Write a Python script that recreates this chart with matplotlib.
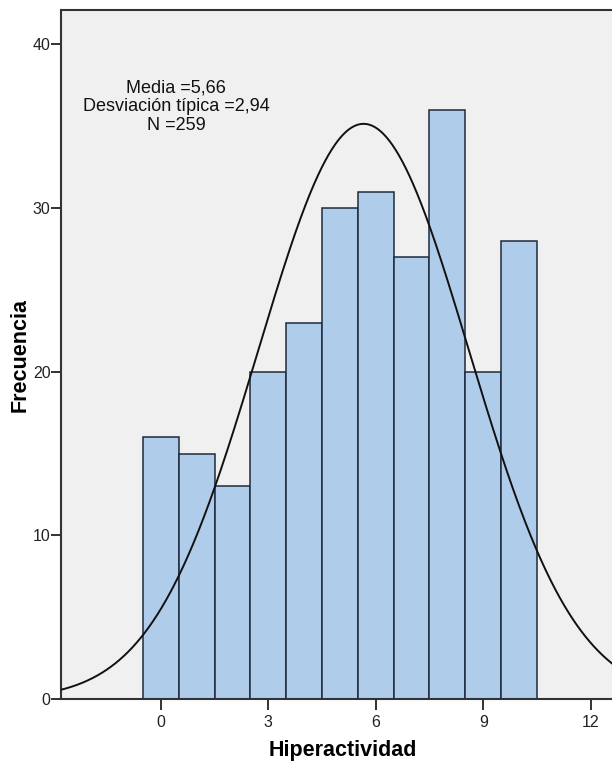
import numpy as np
import matplotlib.pyplot as plt

plt.rcParams['font.family'] = ['Liberation Sans', 'DejaVu Sans']

# frecuencias por valor de la escala de hiperactividad
valores = np.arange(0, 11)
frecuencias = [16, 15, 13, 20, 23, 30, 31, 27, 36, 20, 28]
media = 5.66
desv = 2.94
n = 259

W, H = 612, 767
left, right, bottom, top = 61, 625, 699, 10

fig = plt.figure(figsize=(W / 100, H / 100), dpi=100)
ax = fig.add_axes([left / W, (H - bottom) / H, (right - left) / W, (bottom - top) / H])
ax.set_facecolor('#f0f0f0')

ax.bar(valores, frecuencias, width=1.0, color='#afcdeb', edgecolor='#1f2a3c',
       linewidth=1.1, zorder=2)

# curva normal escalada a la frecuencia (ancho de intervalo = 1)
x = np.linspace(-3, 13.5, 700)
y = n / (desv * np.sqrt(2 * np.pi)) * np.exp(-0.5 * ((x - media) / desv) ** 2)
ax.plot(x, y, color='#111111', linewidth=1.4, zorder=3)

ax.set_xlim(-2.79, 12.96)
ax.set_ylim(0, 42.1)
ax.set_xticks([0, 3, 6, 9, 12])
ax.set_yticks([0, 10, 20, 30, 40])
ax.tick_params(axis='x', length=8, width=1.3, labelsize=11.5, pad=3.5, colors='#222222')
ax.tick_params(axis='y', length=7, width=1.3, labelsize=11.5, pad=0.5, colors='#222222')

for side in ['left', 'bottom', 'top']:
    ax.spines[side].set_linewidth(1.5)
    ax.spines[side].set_color('#333333')
ax.spines['right'].set_visible(False)

ax.text(0.42, 37.85, 'Media =5,66\nDesviación típica =2,94\nN =259',
        ha='center', va='top', fontsize=13, linespacing=1.12, color='#111111')

ax.set_xlabel('Hiperactividad', fontsize=15.5, fontweight='bold')
ax.set_ylabel('Frecuencia', fontsize=15.5, fontweight='bold')
ax.xaxis.set_label_coords(0.5, -0.059)
ax.yaxis.set_label_coords(-0.054, 0.5)

plt.savefig('out.png', dpi=100)
